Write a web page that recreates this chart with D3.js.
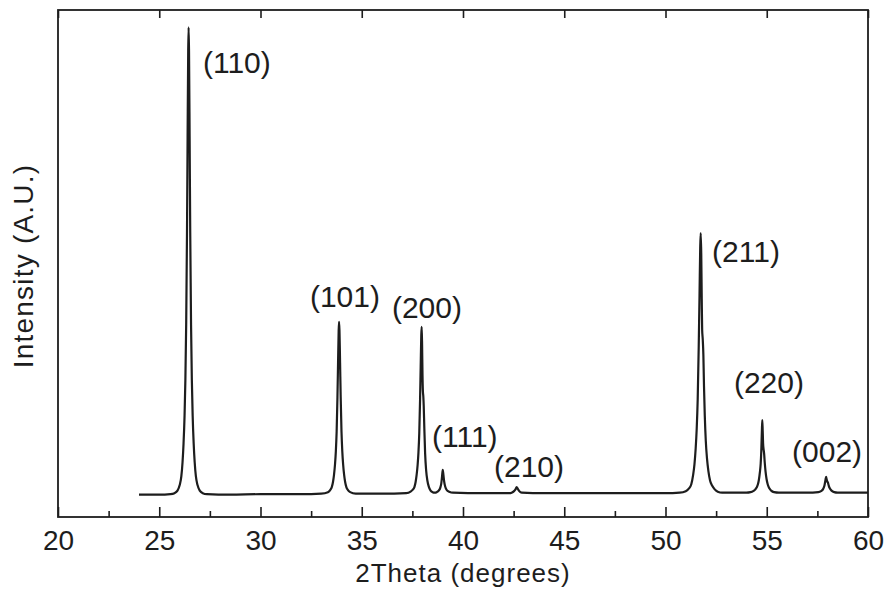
<!DOCTYPE html>
<html>
<head>
<meta charset="utf-8">
<script src="https://cdn.jsdelivr.net/npm/d3@7/dist/d3.min.js"></script>
<style>
  body { margin: 0; background: #fff; }
  svg { display: block; font-family: "Liberation Sans", Arial, sans-serif; }
</style>
</head>
<body>
<div id="chart"></div>
<script>
// ---------------- data ----------------
// 2theta (deg) of the trace points
const twoTheta = [
  24.0, 25.0, 25.55, 25.75, 25.9, 26.01, 26.09, 26.15, 26.2, 26.25, 26.29, 26.33, 26.37, 26.4, 26.43,
  26.45, 26.47, 26.5, 26.53, 26.57, 26.61, 26.65, 26.7, 26.75, 26.81, 26.89, 27.0, 27.15, 27.35,
  28.5, 30.0, 32.0, 33.0,
  33.33, 33.44, 33.52, 33.58, 33.63, 33.68, 33.72, 33.76, 33.8, 33.83, 33.86, 33.88, 33.9, 33.93,
  33.96, 34.0, 34.04, 34.08, 34.13, 34.18, 34.24, 34.32, 34.43, 34.7, 36.0, 37.2,
  37.41, 37.52, 37.6, 37.66, 37.71, 37.76, 37.8, 37.84, 37.88, 37.91, 37.94, 37.96, 37.98, 38.0,
  38.02, 38.04, 38.06, 38.09, 38.13, 38.18, 38.24, 38.31, 38.4, 38.5, 38.6,
  38.7, 38.8, 38.88, 38.93, 38.97, 39.0, 39.03, 39.07, 39.12, 39.2, 39.32, 39.5, 41.0, 42.3,
  42.4, 42.52, 42.6, 42.65, 42.7, 42.78, 42.9, 44.0, 46.0, 48.0, 50.0, 50.7,
  51.0, 51.15, 51.27, 51.365, 51.43, 51.49, 51.54, 51.59, 51.64, 51.68, 51.715, 51.74, 51.765,
  51.79, 51.81, 51.84, 51.87, 51.9, 51.94, 51.99, 52.05, 52.12, 52.2, 52.3, 52.42, 52.58, 52.8, 54.0,
  54.2, 54.33, 54.43, 54.5, 54.56, 54.61, 54.66, 54.7, 54.73, 54.76, 54.78, 54.8, 54.82, 54.84,
  54.87, 54.9, 54.94, 54.99, 55.05, 55.12, 55.22, 55.36, 55.6, 57.0,
  57.55, 57.68, 57.78, 57.85, 57.9, 57.93, 57.96, 57.99, 58.02, 58.06, 58.12, 58.2, 58.33, 58.5, 60.0
];
// intensity (arbitrary units, 0-1000 = full height of the frame)
const intensity = [
  44, 44, 45, 47, 52, 63, 80, 108, 145, 200, 270, 380, 560, 750, 920,
  966, 920, 750, 560, 380, 270, 200, 145, 108, 80, 63, 52, 47, 45,
  44, 45, 45, 46,
  49, 53, 59, 69, 83, 104, 129, 168, 236, 304, 368, 385, 368, 304,
  236, 168, 129, 104, 83, 69, 59, 53, 49, 46, 46, 47,
  50, 54, 59, 69, 83, 103, 127, 165, 231, 296, 359, 375, 340, 280,
  248, 238, 220, 175, 125, 92, 72, 60, 52, 49, 48,
  49, 52, 58, 67, 82, 93, 84, 70, 60, 53, 50, 48, 47, 47,
  48, 51, 55, 59, 56, 51, 48, 47, 47, 47, 47, 48,
  51, 56, 64, 83, 104, 135, 173, 232, 335, 437, 534, 560, 520,
  430, 370, 350, 320, 260, 200, 150, 115, 90, 72, 62, 55, 50, 48, 48,
  49, 51, 54, 58, 64, 73, 88, 105, 130, 170, 191, 170, 145, 135,
  125, 108, 90, 75, 64, 57, 52, 49, 48, 48,
  49, 51, 55, 62, 73, 79, 74, 70, 68, 62, 56, 52, 49, 48, 48
];

// peak labels and where they sit (data units, left edge / baseline of text)
const peakLabels = ["(110)", "(101)", "(200)", "(111)", "(210)", "(211)", "(220)", "(002)"];
const labelTheta = [27.16, 32.44, 36.49, 38.47, 41.53, 52.3, 53.38, 56.25];
const labelIntensity = [876, 414, 392, 138, 79, 503, 245, 108];

const majorTicks = [20, 25, 30, 35, 40, 45, 50, 55, 60];
const minorTicks = [22.5, 27.5, 32.5, 37.5, 42.5, 47.5, 52.5, 57.5];

const data = twoTheta.map((t, i) => ({ t: t, v: intensity[i] }));

// ---------------- init ----------------
const width = 888, height = 594;
const margin = { top: 10, right: 20, bottom: 77, left: 58 };

const svg = d3.select("#chart").append("svg")
  .attr("width", width).attr("height", height);

const x = d3.scaleLinear().domain([20, 60]).range([margin.left, width - margin.right]);
const y = d3.scaleLinear().domain([0, 1000]).range([height - margin.bottom, margin.top]);

const ink = "#1d1d1d";

// bottom axis: major ticks w/ labels, inward
svg.append("g")
  .attr("transform", `translate(0,${height - margin.bottom})`)
  .call(d3.axisBottom(x).tickValues(majorTicks).tickSize(-10).tickPadding(13).tickFormat(d3.format("d")))
  .call(g => g.select(".domain").remove())
  .call(g => g.selectAll("line").attr("stroke", ink).attr("stroke-width", 1.6))
  .call(g => g.selectAll("text").attr("fill", ink).style("font-size", "28px")
    .style("font-family", '"Liberation Sans", Arial, sans-serif'));

// bottom minor ticks
svg.append("g")
  .attr("transform", `translate(0,${height - margin.bottom})`)
  .call(d3.axisBottom(x).tickValues(minorTicks).tickSize(-6).tickFormat(""))
  .call(g => g.select(".domain").remove())
  .call(g => g.selectAll("line").attr("stroke", ink).attr("stroke-width", 1.6));

// top axis: majors pointing down, no labels
svg.append("g")
  .attr("transform", `translate(0,${margin.top})`)
  .call(d3.axisTop(x).tickValues(majorTicks).tickSize(-8).tickFormat(""))
  .call(g => g.select(".domain").remove())
  .call(g => g.selectAll("line").attr("stroke", ink).attr("stroke-width", 1.6));

// frame
svg.append("rect")
  .attr("x", x(20)).attr("y", y(1000))
  .attr("width", x(60) - x(20)).attr("height", y(0) - y(1000))
  .attr("fill", "none").attr("stroke", ink).attr("stroke-width", 1.8);

// trace
const line = d3.line()
  .x(d => x(d.t))
  .y(d => y(d.v))
  .curve(d3.curveMonotoneX);

svg.append("path")
  .datum(data)
  .attr("fill", "none")
  .attr("stroke", ink)
  .attr("stroke-width", 2.2)
  .attr("stroke-linejoin", "round")
  .attr("d", line);

// peak labels
svg.append("g")
  .selectAll("text")
  .data(peakLabels)
  .join("text")
  .attr("x", (d, i) => x(labelTheta[i]))
  .attr("y", (d, i) => y(labelIntensity[i]))
  .attr("fill", ink)
  .style("font-size", "30px")
  .text(d => d);

// axis titles
svg.append("text")
  .attr("x", (x(20) + x(60)) / 2)
  .attr("y", 582)
  .attr("text-anchor", "middle")
  .attr("fill", ink)
  .style("font-size", "26px")
  .style("letter-spacing", "1px")
  .text("2Theta (degrees)");

svg.append("text")
  .attr("transform", `translate(33,266) rotate(-90)`)
  .attr("text-anchor", "middle")
  .attr("fill", ink)
  .style("font-size", "28px")
  .style("letter-spacing", "1.2px")
  .text("Intensity (A.U.)");
</script>
</body>
</html>
